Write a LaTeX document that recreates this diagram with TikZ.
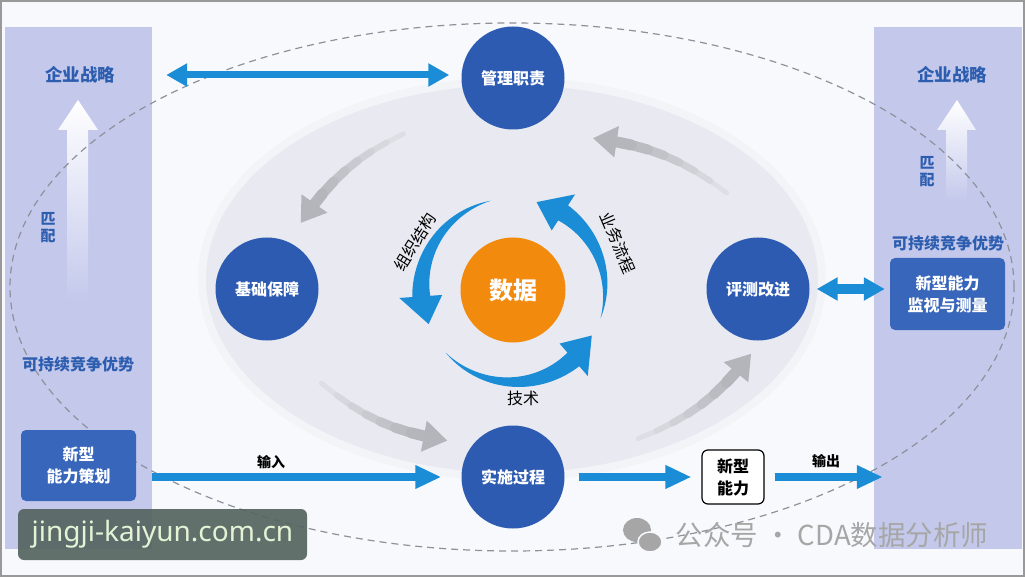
\documentclass[tikz,border=0pt]{standalone}
\usepackage{fontspec}
\newfontfamily\cjk{Noto Sans CJK SC}
\newfontfamily\wmfont{Noto Sans}
\usetikzlibrary{arrows.meta,calc}
\definecolor{PanelLilac}{HTML}{C4C9EC}
\definecolor{PanelText}{HTML}{2D5DAF}
\definecolor{CoreBlue}{HTML}{2C5BB1}
\definecolor{BoxBlue}{HTML}{3866BA}
\definecolor{FlowBlue}{HTML}{1B8CD6}
\definecolor{DataOrange}{HTML}{F28A0E}
\definecolor{HaloGray}{HTML}{E9EAF1}
\definecolor{SoftGray}{HTML}{B4B5BA}
\definecolor{PaperWhite}{HTML}{F8F9FC}
\definecolor{DashGray}{HTML}{8C919B}
\definecolor{MarkGray}{HTML}{A6A6A6}
\definecolor{MarkSlate}{HTML}{55655F}
\definecolor{MarkCream}{HTML}{E4F3D6}
\tikzset{
  panel/.style={fill=PanelLilac, minimum width=147pt, minimum height=522pt, inner sep=0pt},
  paneltext/.style={text=PanelText, inner sep=1pt, font=\cjk\bfseries\fontsize{16}{18}\selectfont},
  core/.style={circle, fill=CoreBlue, minimum size=103pt, inner sep=0pt, text=white,
    font=\cjk\bfseries\fontsize{16}{18}\selectfont},
  capbox/.style={rounded corners=5pt, fill=BoxBlue, minimum width=115pt, minimum height=71pt,
    text=white, align=center, font=\cjk\bfseries\fontsize{16}{22}\selectfont},
  flow/.style={draw=FlowBlue, line width=8pt, -{Triangle[length=26pt,width=22pt]}},
  flowboth/.style={draw=FlowBlue, line width=7pt,
    {Triangle[length=21pt,width=22pt]}-{Triangle[length=21pt,width=22pt]}},
  ringarrow/.style={fill=FlowBlue},
  drift/.style={line cap=round, draw=SoftGray!#1!HaloGray},
  drifthead/.style={draw=SoftGray, line width=11pt, -{Triangle[length=24pt,width=30pt]}},
  tag/.style={font=\cjk\bfseries\fontsize{14}{16}\selectfont},
  ringtag/.style={font=\cjk\fontsize{16}{18}\selectfont}
}
\begin{document}
\begin{tikzpicture}[x=1pt, y=1pt]
  \useasboundingbox (0,0) rectangle (1025,-577);
  \fill[PaperWhite] (0,0) rectangle (1025,-577);
  \draw[gray!80, line width=2pt] (1,-1) rectangle (1024,-576);

  \node[panel] (lpanel) at (78.5,-288) {};
  \node[panel, minimum width=148pt] (rpanel) at (948,-288) {};
  \shade[top color=white, bottom color=PanelLilac] (78,-100) -- (98,-130) -- (88,-130) -- (88,-300)
    -- (67,-300) -- (67,-130) -- (58,-130) -- cycle;
  \shade[top color=white, bottom color=PanelLilac] (957,-100) -- (976,-130) -- (967,-130) -- (967,-200)
    -- (946,-200) -- (946,-130) -- (937,-130) -- cycle;

  \draw[DashGray, dash pattern=on 7pt off 5pt, line width=1.2pt] (512,-287) ellipse (502 and 264);
  \fill[HaloGray!55] (512,-279) ellipse (314 and 202);
  \fill[HaloGray] (512,-279) ellipse (306 and 194);

  \node[paneltext, font=\cjk\bfseries\fontsize{17.5}{19}\selectfont] (lstrat) at (80,-75) {企业战略};
  \node[paneltext, font=\cjk\bfseries\fontsize{17.5}{19}\selectfont] (rstrat) at (952,-75) {企业战略};
  \node[paneltext, align=center, font=\cjk\bfseries\fontsize{15}{17}\selectfont] (lmatch) at (48,-228) {匹\\配};
  \node[paneltext, align=center, font=\cjk\bfseries\fontsize{15}{17}\selectfont] (rmatch) at (927,-172) {匹\\配};
  \node[paneltext] (ladv) at (78,-364) {可持续竞争优势};
  \node[paneltext] (radv) at (948,-243) {可持续竞争优势};
  \node[capbox] (plan) at (78.5,-465.5) {新型\\能力策划};
  \node[capbox, minimum height=72pt] (monitor) at (947.5,-294) {新型能力\\监视与测量};

  \node[core] (mgmt) at (513,-78) {管理职责};
  \node[core] (base) at (267,-289) {基础保障};
  \node[core] (eval) at (758,-289) {评测改进};
  \node[core] (impl) at (513,-477) {实施过程};
  \node[circle, fill=DataOrange, minimum size=105pt, inner sep=0pt, text=white,
    font=\cjk\bfseries\fontsize{24}{26}\selectfont] (data) at (513,-290) {数据};
  \node[draw=black, line width=1.2pt, rounded corners=6pt, fill=white, minimum width=62pt,
    minimum height=54pt, align=center, font=\cjk\bfseries\fontsize{16}{22}\selectfont] (newcap) at (733,-477) {新型\\能力};

  \foreach \src/\sa/\sd/\dst/\da/\dd in {eval/108/101/mgmt/-37/100, mgmt/207/123/base/63/74,
      base/-60/109/impl/151/75, impl/17/131/eval/264/65} {
    \path ($(\src)+(\sa:\sd)$) to[bend right=15] coordinate[pos=0] (g0) coordinate[pos=.125] (g1)
      coordinate[pos=.25] (g2) coordinate[pos=.375] (g3) coordinate[pos=.5] (g4) coordinate[pos=.625] (g5)
      coordinate[pos=.75] (g6) coordinate[pos=.875] (g7) coordinate[pos=1] (g8) ($(\dst)+(\da:\dd)$);
    \foreach \j/\k in {0/1,1/2,2/3,3/4,4/5,5/6,6/7}
      \draw[drift={\the\numexpr 8+13*\k\relax}, line width={4+\k}] (g\j) -- (g\k);
    \draw[drifthead] (g7) -- (g8);
  }

  \draw[flowboth] ([xshift=14pt]lpanel.east |- lstrat) -- ([xshift=-12pt]mgmt.west |- lstrat);
  \draw[flow] (lpanel.east |- impl) -- ([xshift=-20pt]impl.west);
  \draw[flow] ([xshift=14pt]impl.east) -- ([xshift=-10pt]newcap.west);
  \draw[flow] ([xshift=10pt]newcap.east) -- ([xshift=9pt]rpanel.west |- newcap);
  \draw[flowboth, line width=10pt] ([xshift=7pt]eval.east) -- ([xshift=-5pt]monitor.west |- eval);
  \node[tag] (inlbl) at (271,-462) {输入};
  \node[tag] (outlbl) at (826,-461) {输出};

  \begin{scope}[shift={(data.center)}]
    \foreach \tail/\base/\tip in {104/184/202, 223/311/330, 342/417/435}
      \fill[ringarrow] plot[domain=\tail:\base, samples=40, variable=\t] (\t:{92+9*(\t-\tail)/(\base-\tail)})
        -- (\base:114) -- (\tip:91) -- (\base:71)
        -- plot[domain=\base:\tail, samples=40, variable=\t] (\t:{92-9*(\t-\tail)/(\base-\tail)}) -- cycle;
  \end{scope}
  \node[ringtag, rotate=58] (orglbl) at (415,-242) {组织结构};
  \node[ringtag, rotate=-67] (proclbl) at (618,-243) {业务流程};
  \node[ringtag] (techlbl) at (523,-398) {技术};

  \node[fill=MarkSlate, fill opacity=0.92, text opacity=1, rounded corners=6pt, minimum width=289pt,
    minimum height=51pt, text=MarkCream, font=\wmfont\fontsize{28}{30}\selectfont] (site) at (162.5,-534.5) {jingji-kaiyun.com.cn};
  \fill[MarkGray] (637,-530) ellipse (14 and 12);
  \fill[MarkGray, draw=PaperWhite, line width=1.5pt] (650,-542) ellipse (12 and 10);
  \node[text=MarkGray, font=\cjk\fontsize{27.5}{29}\selectfont] (account) at (832,-535) {公众号 · CDA数据分析师};
\end{tikzpicture}
\end{document}
